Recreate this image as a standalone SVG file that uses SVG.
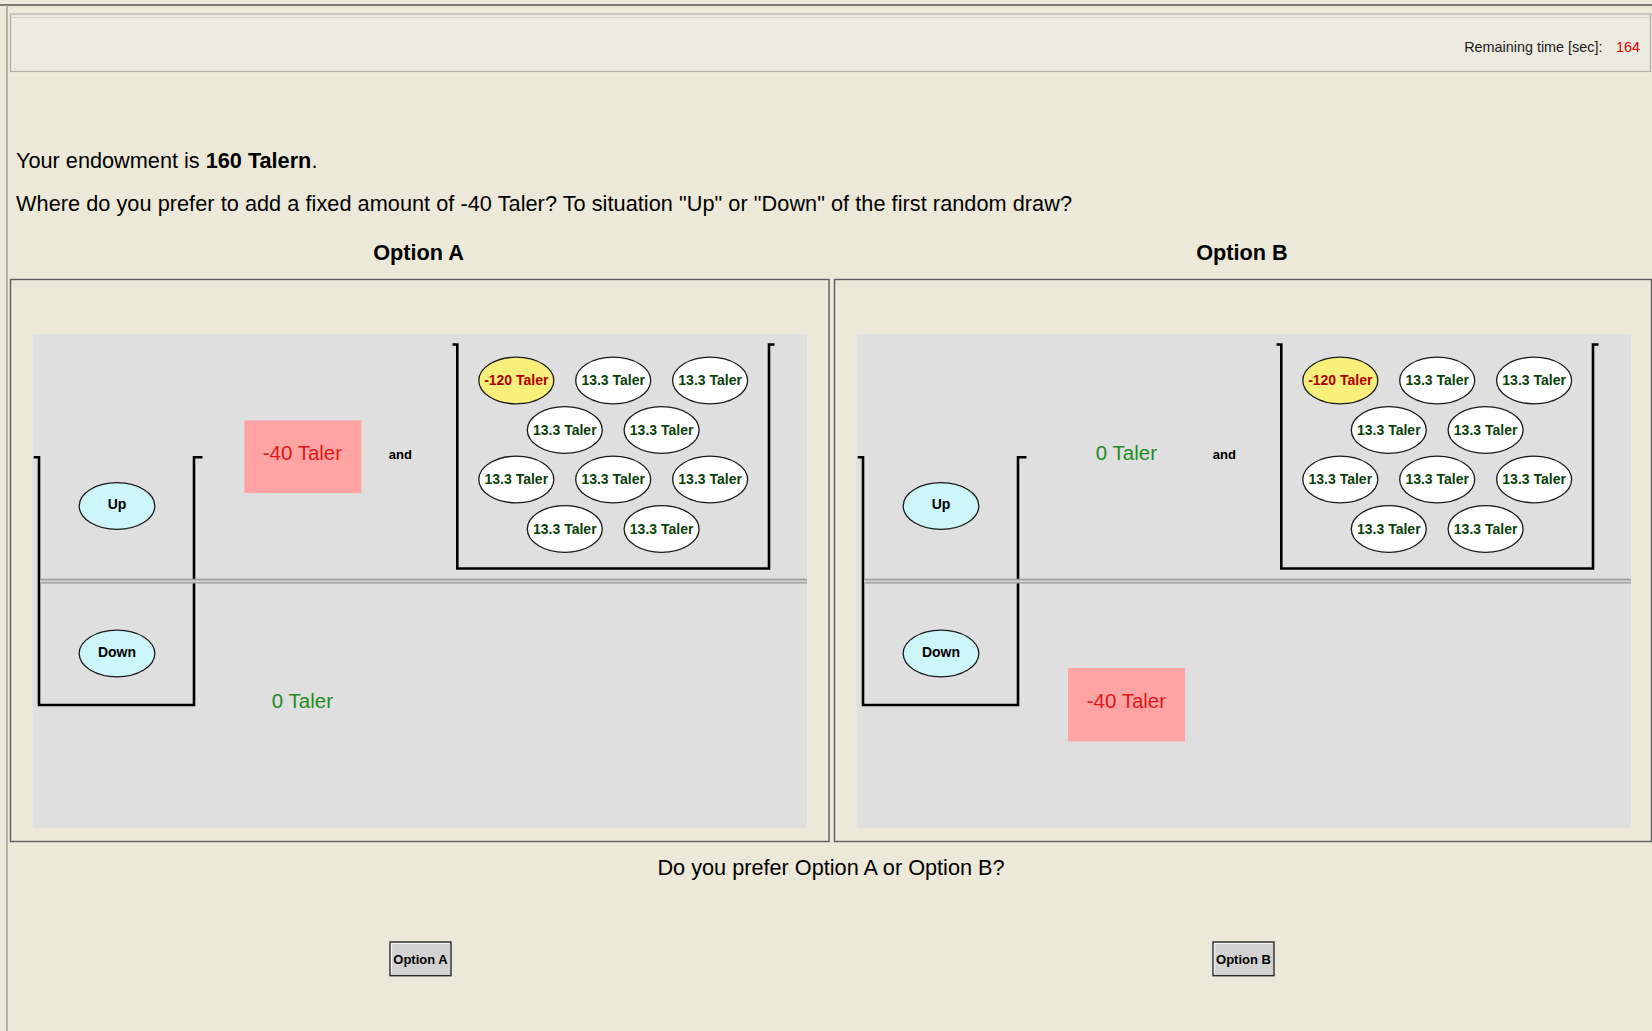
<svg xmlns="http://www.w3.org/2000/svg" width="1652" height="1031" viewBox="0 0 1652 1031">
<style>
text { font-family: "Liberation Sans", Arial, sans-serif; fill: #000; }
.main { font-size: 21.7px; }
.title { font-size: 21.7px; font-weight: bold; text-anchor: middle; }
.small { font-size: 14.4px; fill: #1a1a1a; }
.frame { fill: none; stroke: #5c5c5c; stroke-width: 1.4; }
.area { fill: #DFDFDF; }
.sep { stroke: #9c9c9c; stroke-width: 1.3; }
.bracket { fill: none; stroke: #000; stroke-width: 2.6; }
.state { fill: #CDF6FA; stroke: #1a1a1a; stroke-width: 1.3; }
.st { font-size: 14px; font-weight: bold; text-anchor: middle; }
.ball { fill: #FFFFFF; stroke: #1a1a1a; stroke-width: 1.3; }
.ball-bad { fill: #F8F07A; stroke: #1a1a1a; stroke-width: 1.3; }
.bt { font-size: 14px; font-weight: bold; text-anchor: middle; fill: #0B3F0B; }
.bt-bad { font-size: 14px; font-weight: bold; text-anchor: middle; fill: #B00000; }
.pink { fill: #FFA3A3; }
.loss { font-size: 20.5px; text-anchor: middle; fill: #E01818; }
.gain { font-size: 20.5px; text-anchor: middle; fill: #1E8C1E; }
.and { font-size: 13px; font-weight: bold; text-anchor: middle; }
.btn { fill: #D2D2D2; stroke: #2a2a2a; stroke-width: 1.4; }
.btn-hi { fill: none; stroke: #F4F4F4; stroke-width: 1.2; }
.btnt { font-size: 13px; font-weight: bold; text-anchor: middle; }
</style>

<rect x="0" y="0" width="1652" height="1031" fill="#ECE9D8"/>
<line x1="0" y1="5" x2="1652" y2="5" stroke="#7c7b74" stroke-width="2"/>
<line x1="7" y1="5" x2="7" y2="1031" stroke="#a3a29a" stroke-width="1.5"/>

<g id="header">
  <rect x="10.5" y="14" width="1640" height="57.5" fill="#EDEADF" stroke="#b0afa6" stroke-width="1.2"/>
  <line x1="11" y1="17.5" x2="1650" y2="17.5" stroke="#d6d4ca" stroke-width="1"/>
  <text class="small" x="1602.5" y="51.5" text-anchor="end">Remaining time [sec]:</text>
  <text class="small" x="1616" y="51.5" style="fill:#D40000">164</text>
</g>

<g id="prompt">
  <text class="main" x="16" y="168">Your endowment is <tspan font-weight="bold">160 Talern</tspan>.</text>
  <text class="main" x="16" y="211" textLength="1056">Where do you prefer to add a fixed amount of -40 Taler? To situation "Up" or "Down" of the first random draw?</text>
</g>

<g id="optionA">
  <text class="title" x="418.5" y="260">Option A</text>
  <rect class="frame" x="10.5" y="279.5" width="818.5" height="562"/>
  <rect class="area" x="32.7" y="334" width="774.3" height="494"/>
  <g id="A-first-draw">
    <path class="bracket" d="M33.7,457.3 H39 V705 H194 V457.3 H202.5"/>
    <ellipse class="state" cx="117" cy="506" rx="37.8" ry="23.3"/>
    <text class="st" x="117" y="509">Up</text>
    <ellipse class="state" cx="117" cy="653.5" rx="37.8" ry="23.3"/>
    <text class="st" x="117" y="657">Down</text>
  </g>
  <g id="A-separator">
    <rect x="40" y="579.5" width="767" height="3.4" fill="#cfcfcf"/>
    <line class="sep" x1="40" y1="579.5" x2="807" y2="579.5"/>
    <line class="sep" x1="40" y1="582.9" x2="807" y2="582.9"/>
  </g>
  <g id="A-up-amount">
    <rect class="pink" x="244.4" y="420.4" width="117" height="72.6"/>
    <text class="loss" x="302.4" y="460">-40 Taler</text>
  </g>
  <g id="A-and"><text class="and" x="400.4" y="459">and</text></g>
  <g id="A-urn">
    <path class="bracket" d="M452.5,344.5 H457.3 V568.5 H769 V344.5 H774.5"/>
    <ellipse class="ball-bad" cx="516.3" cy="380.5" rx="37.5" ry="23.3"/>
    <text class="bt-bad" x="516.3" y="385">-120 Taler</text>
    <ellipse class="ball" cx="613.2" cy="380.5" rx="37.5" ry="23.3"/>
    <text class="bt" x="613.2" y="385">13.3 Taler</text>
    <ellipse class="ball" cx="710.1" cy="380.5" rx="37.5" ry="23.3"/>
    <text class="bt" x="710.1" y="385">13.3 Taler</text>
    <ellipse class="ball" cx="564.8" cy="430" rx="37.5" ry="23.3"/>
    <text class="bt" x="564.8" y="434.5">13.3 Taler</text>
    <ellipse class="ball" cx="661.6" cy="430" rx="37.5" ry="23.3"/>
    <text class="bt" x="661.6" y="434.5">13.3 Taler</text>
    <ellipse class="ball" cx="516.3" cy="479.5" rx="37.5" ry="23.3"/>
    <text class="bt" x="516.3" y="484">13.3 Taler</text>
    <ellipse class="ball" cx="613.2" cy="479.5" rx="37.5" ry="23.3"/>
    <text class="bt" x="613.2" y="484">13.3 Taler</text>
    <ellipse class="ball" cx="710.1" cy="479.5" rx="37.5" ry="23.3"/>
    <text class="bt" x="710.1" y="484">13.3 Taler</text>
    <ellipse class="ball" cx="564.8" cy="529" rx="37.5" ry="23.3"/>
    <text class="bt" x="564.8" y="533.5">13.3 Taler</text>
    <ellipse class="ball" cx="661.6" cy="529" rx="37.5" ry="23.3"/>
    <text class="bt" x="661.6" y="533.5">13.3 Taler</text>
  </g>
  <g id="A-down-amount"><text class="gain" x="302.4" y="708">0 Taler</text></g>
</g>

<g id="optionB">
  <text class="title" x="1242" y="260">Option B</text>
  <rect class="frame" x="834.5" y="279.5" width="817" height="562"/>
  <rect class="area" x="856.7" y="334" width="774.3" height="494"/>
  <g id="B-first-draw">
    <path class="bracket" d="M857.7,457.3 H863 V705 H1018 V457.3 H1026.5"/>
    <ellipse class="state" cx="941" cy="506" rx="37.8" ry="23.3"/>
    <text class="st" x="941" y="509">Up</text>
    <ellipse class="state" cx="941" cy="653.5" rx="37.8" ry="23.3"/>
    <text class="st" x="941" y="657">Down</text>
  </g>
  <g id="B-separator">
    <rect x="864" y="579.5" width="767" height="3.4" fill="#cfcfcf"/>
    <line class="sep" x1="864" y1="579.5" x2="1631" y2="579.5"/>
    <line class="sep" x1="864" y1="582.9" x2="1631" y2="582.9"/>
  </g>
  <g id="B-up-amount"><text class="gain" x="1126.4" y="460">0 Taler</text></g>
  <g id="B-and"><text class="and" x="1224.4" y="459">and</text></g>
  <g id="B-urn">
    <path class="bracket" d="M1276.5,344.5 H1281.3 V568.5 H1593 V344.5 H1598.5"/>
    <ellipse class="ball-bad" cx="1340.3" cy="380.5" rx="37.5" ry="23.3"/>
    <text class="bt-bad" x="1340.3" y="385">-120 Taler</text>
    <ellipse class="ball" cx="1437.2" cy="380.5" rx="37.5" ry="23.3"/>
    <text class="bt" x="1437.2" y="385">13.3 Taler</text>
    <ellipse class="ball" cx="1534.1" cy="380.5" rx="37.5" ry="23.3"/>
    <text class="bt" x="1534.1" y="385">13.3 Taler</text>
    <ellipse class="ball" cx="1388.8" cy="430" rx="37.5" ry="23.3"/>
    <text class="bt" x="1388.8" y="434.5">13.3 Taler</text>
    <ellipse class="ball" cx="1485.6" cy="430" rx="37.5" ry="23.3"/>
    <text class="bt" x="1485.6" y="434.5">13.3 Taler</text>
    <ellipse class="ball" cx="1340.3" cy="479.5" rx="37.5" ry="23.3"/>
    <text class="bt" x="1340.3" y="484">13.3 Taler</text>
    <ellipse class="ball" cx="1437.2" cy="479.5" rx="37.5" ry="23.3"/>
    <text class="bt" x="1437.2" y="484">13.3 Taler</text>
    <ellipse class="ball" cx="1534.1" cy="479.5" rx="37.5" ry="23.3"/>
    <text class="bt" x="1534.1" y="484">13.3 Taler</text>
    <ellipse class="ball" cx="1388.8" cy="529" rx="37.5" ry="23.3"/>
    <text class="bt" x="1388.8" y="533.5">13.3 Taler</text>
    <ellipse class="ball" cx="1485.6" cy="529" rx="37.5" ry="23.3"/>
    <text class="bt" x="1485.6" y="533.5">13.3 Taler</text>
  </g>
  <g id="B-down-amount">
    <rect class="pink" x="1068" y="668" width="117" height="73.5"/>
    <text class="loss" x="1126.4" y="708">-40 Taler</text>
  </g>
</g>

<g id="question">
  <text class="main" x="831" y="875" text-anchor="middle">Do you prefer Option A or Option B?</text>
</g>

<g id="button-A">
  <rect class="btn" x="390" y="942" width="61" height="33.7"/>
  <path class="btn-hi" d="M391.5,973.5 V943.5 H449.5"/>
  <text class="btnt" x="420.5" y="963.5">Option A</text>
</g>
<g id="button-B">
  <rect class="btn" x="1213" y="942" width="61" height="33.7"/>
  <path class="btn-hi" d="M1214.5,973.5 V943.5 H1272.5"/>
  <text class="btnt" x="1243.5" y="963.5">Option B</text>
</g>
<g id="connectors"/>
</svg>
